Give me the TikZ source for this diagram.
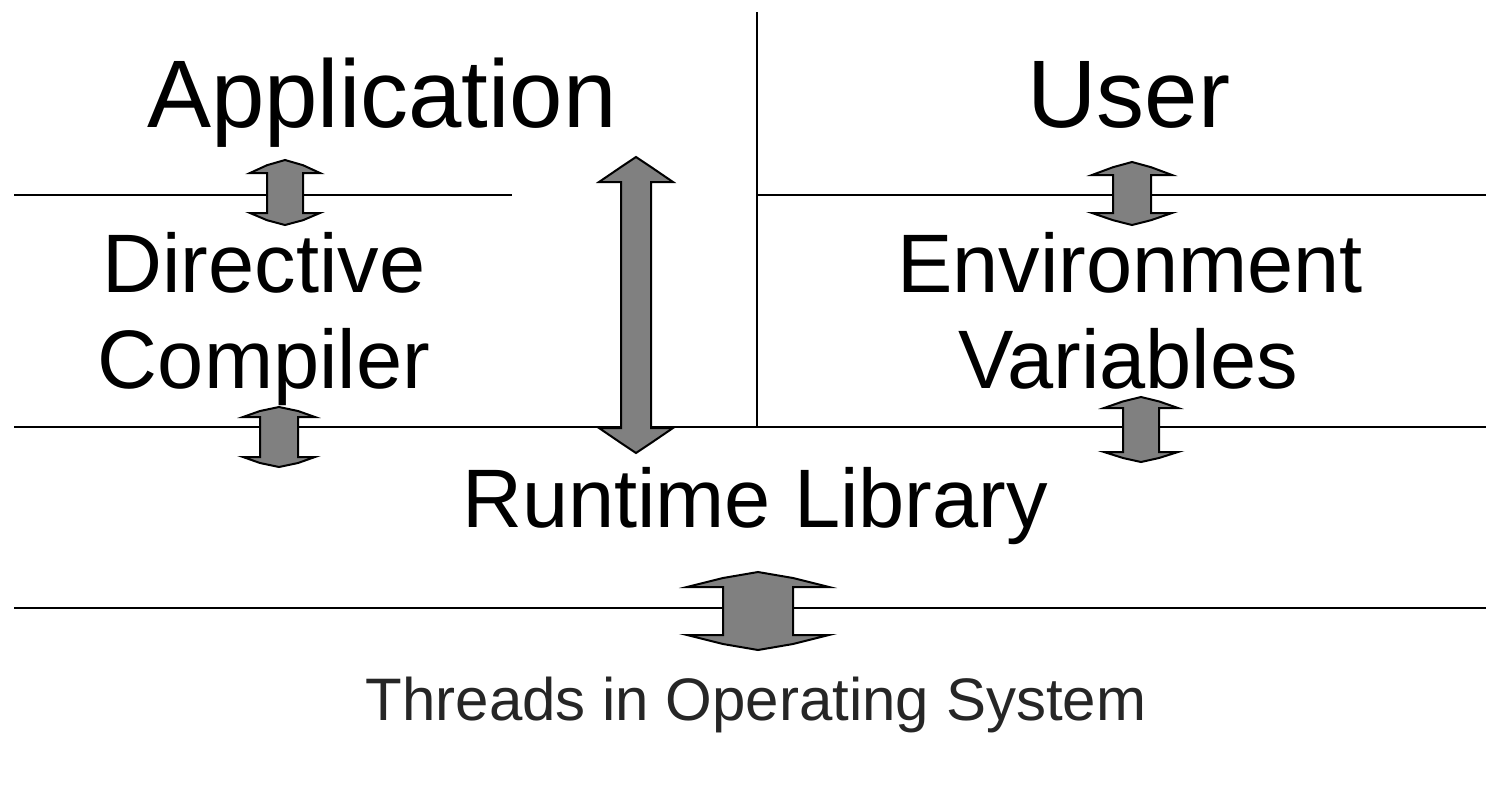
\documentclass[tikz,border=0pt]{standalone}
\usepackage{fontspec}
\setmainfont{Liberation Sans}
\definecolor{arrowgray}{RGB}{128,128,128}
\tikzset{
  layerline/.style={line width=1.1pt, draw=black},
  blockarr/.style={fill=arrowgray, draw=black, line width=1pt, line join=miter},
  bigtxt/.style={inner sep=0pt, anchor=base, font=\fontsize{48}{50}\selectfont},
  midtxt/.style={inner sep=0pt, anchor=base, font=\fontsize{41.5}{44}\selectfont},
  smalltxt/.style={inner sep=0pt, anchor=base, text=black!85, font=\fontsize{30}{32}\selectfont},
}
% name, cx, top tip, top barb, bottom barb, bottom tip, half body, half head
\newcommand{\dblarrow}[8]{%
  \path[blockarr]
    ({#2-#8},#4) -- ({#2-#7},{#3+0.4*(#4-#3)}) -- (#2,#3)
    -- ({#2+#7},{#3+0.4*(#4-#3)}) -- ({#2+#8},#4) -- ({#2+#7},#4)
    -- ({#2+#7},#5) -- ({#2+#8},#5) -- ({#2+#7},{#6-0.4*(#6-#5)})
    -- (#2,#6) -- ({#2-#7},{#6-0.4*(#6-#5)}) -- ({#2-#8},#5)
    -- ({#2-#7},#5) -- ({#2-#7},#4) -- cycle;
  \coordinate (#1) at (#2,{(#3+#6)/2});
}
\begin{document}
\begin{tikzpicture}[x=0.5pt,y=-0.5pt]
  \useasboundingbox (0,0) rectangle (1486,787);
  % layer lines
  \coordinate (tlA) at (14,195);  \coordinate (tlB) at (512,195);
  \coordinate (trA) at (757,195); \coordinate (trB) at (1486,195);
  \coordinate (vA) at (757,12);   \coordinate (vB) at (757,427);
  \coordinate (mA) at (14,427);   \coordinate (mB) at (1486,427);
  \coordinate (bA) at (14,608);   \coordinate (bB) at (1486,608);
  \draw[layerline] (tlA) -- (tlB);
  \draw[layerline] (trA) -- (trB);
  \draw[layerline] (vA) -- (vB);
  \draw[layerline] (mA) -- (mB);
  \draw[layerline] (bA) -- (bB);
  % block arrows
  \dblarrow{arrAppDir}{285}{160}{173}{213}{225}{18}{35}
  \dblarrow{arrAppRt}{636}{157}{182}{428}{453}{15}{37}
  \dblarrow{arrUserEnv}{1132}{162}{175}{213}{225}{19}{40}
  \dblarrow{arrDirRt}{279}{407}{417}{457}{467}{19}{36}
  \dblarrow{arrEnvRt}{1141}{397}{408}{452}{462}{18}{37}
  \dblarrow{arrRtOs}{758}{572}{587}{635}{650}{35}{71}
  % texts
  \node[bigtxt] (app) at (382,127) {Application};
  \node[bigtxt] (user) at (1129,127) {User};
  \node[midtxt] (dir) at (264,292) {Directive};
  \node[midtxt] (comp) at (264,388) {Compiler};
  \node[midtxt] (env) at (1130,292) {Environment};
  \node[midtxt] (var) at (1128,388) {Variables};
  \node[midtxt] (rt) at (755,527) {Runtime Library};
  \node[smalltxt] (os) at (756,720) {Threads in Operating System};
\end{tikzpicture}
\end{document}
